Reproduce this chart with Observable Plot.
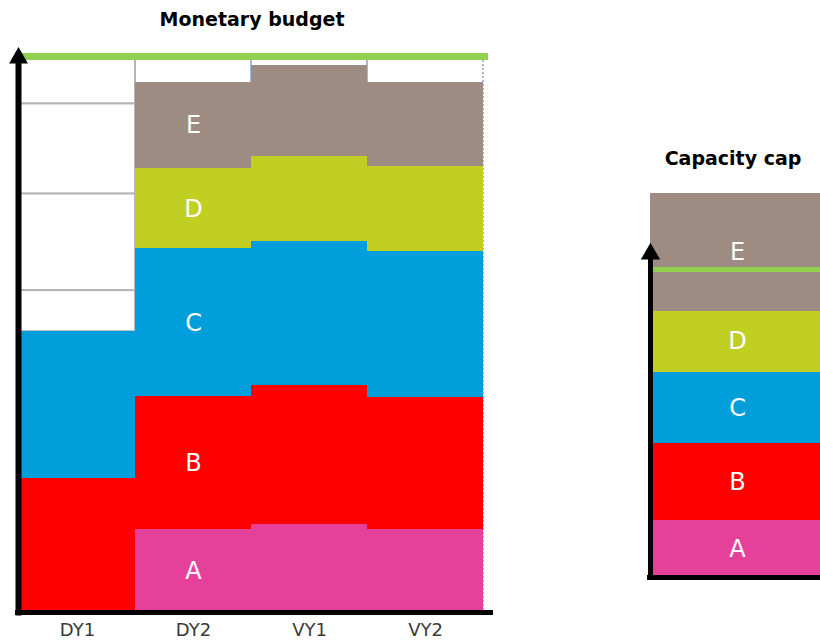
<!DOCTYPE html>
<html>
<head>
<meta charset="utf-8">
<script src="https://cdn.jsdelivr.net/npm/d3@7"></script>
<script src="https://cdn.jsdelivr.net/npm/@observablehq/plot@0.6"></script>
<style>
html, body { margin: 0; padding: 0; background: #fff; overflow: hidden; }
#wrap { position: relative; width: 820px; height: 641px; overflow: hidden; background: #fff; }
.title { position: absolute; font-family: "DejaVu Sans", Verdana, sans-serif; font-weight: bold; font-size: 19px; line-height: 19px; color: #000; white-space: nowrap; transform: translateX(-50%); }
#left, #right { position: absolute; top: 0; }
#left { left: 0; width: 500px; }
#right { left: 620px; width: 220px; }
#left svg, #right svg { max-width: none !important; }
</style>
</head>
<body>
<div id="wrap">
  <div class="title" id="t1" style="left:252px; top:10px"></div>
  <div class="title" id="t2" style="left:733px; top:149px"></div>
  <div id="left"></div>
  <div id="right"></div>
</div>
<script>
// ---- data ----
const titleBudget = "Monetary budget";
const titleCap = "Capacity cap";
const periods = ["DY1", "DY2", "VY1", "VY2"];
const segments = ["A", "B", "C", "D", "E"];
const segA = [0, 14.9, 15.8, 14.9];
const segB = [24.1, 23.9, 25.0, 23.7];
const segC = [26.4, 26.6, 25.9, 26.3];
const segD = [0, 14.4, 15.3, 15.3];
const segE = [0, 15.6, 16.4, 15.1];
const unusedDY1 = [7.4, 17.4, 16.2, 8.5];   // empty (white) cells above DY1
const budgetLimit = 100;
const capValues = [10.3, 13.8, 12.8, 11.0, 21.2];
const capLimit = 55.4;
const capAxisTop = 58.45;
const labelPeriod = "DY2";

// ---- styles ----
const colors = ["#E6419A", "#FF0000", "#009FDC", "#C1CE22", "#9E8C83"];
const capGreen = "#92D050";

document.getElementById("t1").textContent = titleBudget;
document.getElementById("t2").textContent = titleCap;

const series = [segA, segB, segC, segD, segE];
const rows = [];
periods.forEach((p, i) => {
  segments.forEach((s, j) => rows.push({period: p, seg: s, value: series[j][i]}));
});
unusedDY1.forEach(v => rows.push({period: "DY1", seg: "empty", value: v}));

const left = Plot.plot({
  width: 500, height: 641,
  marginLeft: 18, marginRight: 17, marginTop: 56, marginBottom: 29,
  style: {fontFamily: "DejaVu Sans, Verdana, sans-serif", fontSize: "18px", color: "#3a3a3a", background: "transparent", overflow: "visible"},
  x: {domain: periods, padding: 0, tickSize: 0, tickPadding: 11, label: null},
  y: {domain: [0, budgetLimit], axis: null},
  color: {domain: segments, range: colors},
  marks: [
    Plot.barY(periods, {x: d => d, y1: 0, y2: budgetLimit, fill: "none", stroke: "#4a72c0", strokeDasharray: "2,2", strokeWidth: 1}),
    Plot.barY(rows, Plot.filter(d => d.seg === "empty",
      Plot.stackY({x: "period", y: "value", fill: "white", stroke: "#b4b4b4", strokeWidth: 2}))),
    Plot.barY(rows, Plot.stackY({filter: d => d.seg !== "empty", x: "period", y: "value", fill: "seg", shapeRendering: "crispEdges"})),
    Plot.text(rows, Plot.stackY({filter: d => d.period === labelPeriod && d.seg !== "empty", x: "period", y: "value", text: "seg",
      fill: "white", fontSize: 24, fontFamily: "DejaVu Sans, Verdana, sans-serif"})),
    Plot.ruleY([budgetLimit], {stroke: capGreen, strokeWidth: 7, insetLeft: 4, insetRight: -5}),
    Plot.frame({anchor: "left", stroke: "black", strokeWidth: 6}),
    Plot.ruleY([0], {stroke: "black", strokeWidth: 5, insetLeft: -3, insetRight: -10}),
    Plot.dot([budgetLimit], {y: d => d, frameAnchor: "left", symbol: "triangle", r: 7, fill: "black", stroke: "none", dy: 1.5})
  ]
});
document.getElementById("left").appendChild(left);

const capRows = segments.map((s, i) => ({seg: s, value: capValues[i]}));
const right = Plot.plot({
  width: 220, height: 641,
  marginLeft: 30, marginRight: 16, marginTop: 252, marginBottom: 64,
  style: {fontFamily: "DejaVu Sans, Verdana, sans-serif", fontSize: "18px", color: "#404040", background: "transparent", overflow: "visible"},
  x: {domain: ["cap"], padding: 0, axis: null},
  y: {domain: [0, capAxisTop], axis: null},
  color: {domain: segments, range: colors},
  marks: [
    Plot.barY(capRows, Plot.stackY({x: () => "cap", y: "value", fill: "seg", shapeRendering: "crispEdges"})),
    Plot.text(capRows, Plot.stackY({x: () => "cap", y: "value", text: "seg", fill: "white", fontSize: 24, fontFamily: "DejaVu Sans, Verdana, sans-serif"})),
    Plot.ruleY([capLimit], {stroke: capGreen, strokeWidth: 5, insetLeft: -1}),
    Plot.frame({anchor: "left", stroke: "black", strokeWidth: 5}),
    Plot.ruleY([0], {stroke: "black", strokeWidth: 5, insetLeft: -3}),
    Plot.dot([capAxisTop], {y: d => d, frameAnchor: "left", symbol: "triangle", r: 7.2, fill: "black", stroke: "none", dy: 1.5})
  ]
});
document.getElementById("right").appendChild(right);
</script>
</body>
</html>
